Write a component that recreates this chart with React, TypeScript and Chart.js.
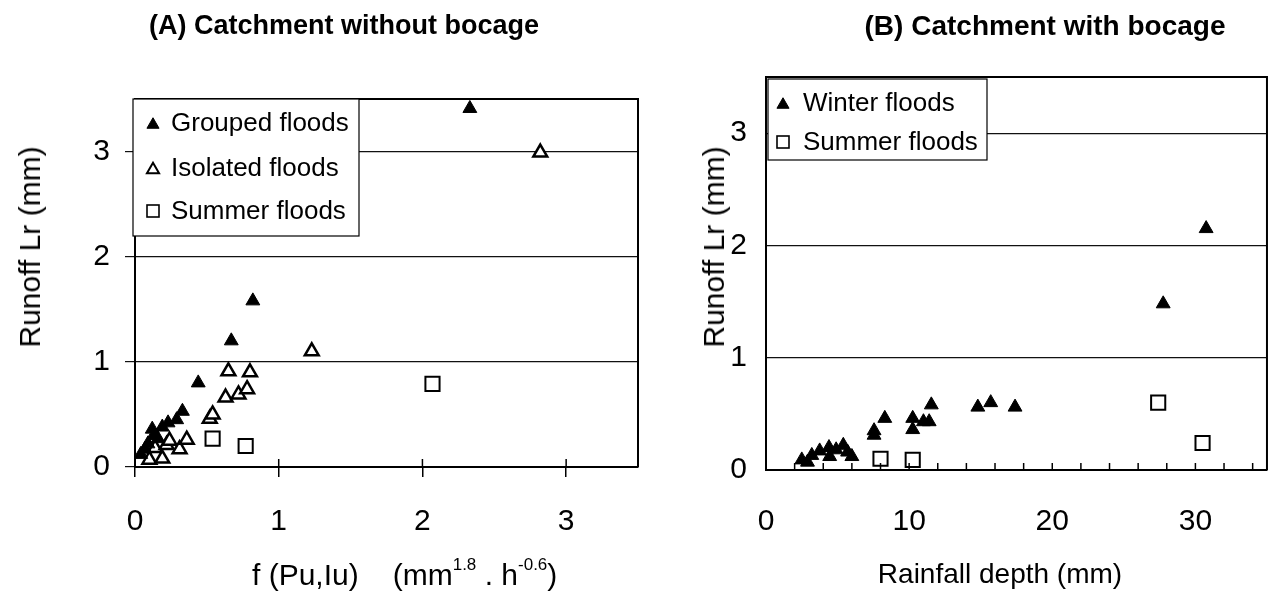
import React, { useEffect, useRef } from 'react';
import { Chart, registerables } from 'chart.js';

Chart.register(...registerables);

const FONT = '"Liberation Sans", Arial, Helvetica, sans-serif';

// ---------- Panel A data : Catchment without bocage ----------
const groupedFloodsA: [number, number][] = [
  [0.04, 0.12], [0.07, 0.17], [0.09, 0.22], [0.12, 0.36], [0.13, 0.30], [0.16, 0.27],
  [0.19, 0.38], [0.23, 0.42], [0.29, 0.45], [0.33, 0.53], [0.44, 0.80], [0.67, 1.20],
  [0.82, 1.58], [2.33, 3.41],
];
const isolatedFloodsA: [number, number][] = [
  [0.10, 0.07], [0.19, 0.08], [0.14, 0.18], [0.22, 0.21], [0.24, 0.25], [0.31, 0.17],
  [0.36, 0.26], [0.52, 0.46], [0.54, 0.50], [0.63, 0.66], [0.65, 0.91], [0.72, 0.69],
  [0.78, 0.74], [0.80, 0.90], [1.23, 1.10], [2.82, 2.99],
];
const summerFloodsA: [number, number][] = [
  [0.54, 0.27], [0.77, 0.20], [2.07, 0.79],
];

// ---------- Panel B data : Catchment with bocage ----------
const winterFloodsB: [number, number][] = [
  [2.5, 0.09], [2.9, 0.07], [3.2, 0.13], [3.75, 0.17], [4.4, 0.20], [4.45, 0.12],
  [4.9, 0.18], [5.4, 0.22], [5.7, 0.16], [6.0, 0.12], [7.55, 0.31], [7.55, 0.35],
  [8.3, 0.46], [10.25, 0.36], [10.25, 0.46], [11.0, 0.43], [11.4, 0.43], [11.55, 0.58],
  [14.8, 0.56], [15.7, 0.60], [17.4, 0.56], [27.75, 1.48], [30.75, 2.15],
];
const summerFloodsB: [number, number][] = [
  [8.0, 0.10], [10.25, 0.09], [27.4, 0.60], [30.5, 0.24],
];

const labelsA = ['Grouped floods', 'Isolated floods', 'Summer floods'];
const labelsB = ['Winter floods', 'Summer floods'];

const toPts = (arr: [number, number][]) => arr.map(([x, y]) => ({ x, y }));

const filledTri = {
  pointStyle: 'triangle', pointRadius: 8, pointHoverRadius: 8,
  backgroundColor: '#000', borderColor: '#000', borderWidth: 1,
};
const openTri = {
  pointStyle: 'triangle', pointRadius: 8, pointHoverRadius: 8,
  backgroundColor: '#fff', borderColor: '#000', borderWidth: 2.5,
};
const openSq = {
  pointStyle: 'rect', pointRadius: 10, pointHoverRadius: 10,
  backgroundColor: '#fff', borderColor: '#000', borderWidth: 2,
};

function drawLegendMarker(ctx: CanvasRenderingContext2D, ds: any, x: number, cy: number) {
  ctx.save();
  ctx.strokeStyle = '#000';
  ctx.fillStyle = ds.backgroundColor;
  if (ds.pointStyle === 'triangle') {
    const r = 7;
    const y = cy + r / 4;
    ctx.beginPath();
    ctx.moveTo(x, y - r);
    ctx.lineTo(x + r * Math.sin((2 * Math.PI) / 3), y + r / 2);
    ctx.lineTo(x - r * Math.sin((2 * Math.PI) / 3), y + r / 2);
    ctx.closePath();
    ctx.fill();
    ctx.lineWidth = ds.backgroundColor === '#000' ? 1 : 2;
    ctx.stroke();
  } else {
    const s = 12;
    ctx.fillRect(x - s / 2, cy - s / 2, s, s);
    ctx.lineWidth = 1.6;
    ctx.strokeRect(x - s / 2, cy - s / 2, s, s);
  }
  ctx.restore();
}

const decorPlugin = {
  id: 'decor',
  afterDatasetsDraw(chart: any, _args: any, opts: any) {
    const { ctx, chartArea: ca } = chart;
    ctx.save();
    // top and right frame
    ctx.strokeStyle = '#000';
    ctx.lineWidth = 2;
    ctx.beginPath();
    ctx.moveTo(ca.left, ca.top);
    ctx.lineTo(ca.right, ca.top);
    ctx.lineTo(ca.right, ca.bottom);
    ctx.stroke();
    // inward x ticks
    const xs = chart.scales.x;
    ctx.lineWidth = 1.5;
    xs.ticks.forEach((t: any) => {
      const px = xs.getPixelForValue(t.value);
      ctx.beginPath();
      ctx.moveTo(px, ca.bottom);
      ctx.lineTo(px, ca.bottom - opts.innerTick);
      ctx.stroke();
    });
    // legend box
    const L = opts.legend;
    const lx = ca.left + L.dx;
    const ly = ca.top + L.dy;
    ctx.fillStyle = '#fff';
    ctx.fillRect(lx, ly, L.w, L.h);
    ctx.lineWidth = 1.2;
    ctx.strokeStyle = '#000';
    ctx.strokeRect(lx, ly, L.w, L.h);
    ctx.font = `${L.fontSize}px ${FONT}`;
    ctx.textBaseline = 'middle';
    ctx.textAlign = 'left';
    chart.data.datasets.forEach((ds: any, i: number) => {
      const cy = ly + L.rows[i];
      drawLegendMarker(ctx, ds, lx + L.markerX, cy);
      ctx.fillStyle = '#000';
      ctx.fillText(ds.label, lx + L.textX, cy + 1);
    });
    ctx.restore();
  },
};

const tickFont = { family: FONT, size: 30 };

function makeConfigA(): any {
  return {
    type: 'scatter',
    data: {
      datasets: [
        { label: labelsA[0], data: toPts(groupedFloodsA), ...filledTri },
        { label: labelsA[1], data: toPts(isolatedFloodsA), ...openTri },
        { label: labelsA[2], data: toPts(summerFloodsA), ...openSq },
      ],
    },
    options: {
      responsive: false,
      animation: false,
      layout: { padding: { left: 0, top: 99, right: 9, bottom: 53 } },
      plugins: {
        legend: { display: false },
        title: { display: false },
        tooltip: { enabled: false },
        decor: {
          innerTick: 8,
          legend: { dx: -2, dy: 0, w: 226, h: 137, rows: [24, 69, 112], markerX: 20, textX: 38, fontSize: 26 },
        },
      },
      scales: {
        x: {
          type: 'linear', min: 0, max: 3.5,
          afterFit: (s: any) => { s.height = 80; },
          ticks: { stepSize: 1, includeBounds: false, autoSkip: false, maxRotation: 0, padding: 27, color: '#000', font: tickFont },
          grid: { drawOnChartArea: false, drawTicks: true, tickLength: 10, color: '#000', lineWidth: 1.5 },
          border: { display: true, color: '#000', width: 2 },
        },
        y: {
          type: 'linear', min: 0, max: 3.5,
          afterFit: (s: any) => { s.width = 135; },
          ticks: { stepSize: 1, includeBounds: false, padding: 15, color: '#000', font: tickFont },
          grid: { drawOnChartArea: true, drawTicks: true, tickLength: 10, color: '#111', lineWidth: 1.2 },
          border: { display: true, color: '#000', width: 2 },
        },
      },
    },
    plugins: [decorPlugin],
  };
}

function makeConfigB(): any {
  return {
    type: 'scatter',
    data: {
      datasets: [
        { label: labelsB[0], data: toPts(winterFloodsB), ...filledTri },
        { label: labelsB[1], data: toPts(summerFloodsB), ...openSq },
      ],
    },
    options: {
      responsive: false,
      animation: false,
      layout: { padding: { left: 0, top: 77, right: 2, bottom: 50 } },
      plugins: {
        legend: { display: false },
        title: { display: false },
        tooltip: { enabled: false },
        decor: {
          innerTick: 7,
          legend: { dx: 2, dy: 2, w: 219, h: 81, rows: [24, 63], markerX: 15, textX: 35, fontSize: 26 },
        },
      },
      scales: {
        x: {
          type: 'linear', min: 0, max: 35,
          afterFit: (s: any) => { s.height = 80; },
          ticks: {
            stepSize: 2, includeBounds: false, autoSkip: false, maxRotation: 0, padding: 34, color: '#000', font: tickFont,
            callback: (v: any) => (Number(v) % 10 === 0 ? String(v) : ''),
          },
          grid: { drawOnChartArea: false, drawTicks: false, color: '#000', lineWidth: 1.5 },
          border: { display: true, color: '#000', width: 2 },
        },
        y: {
          type: 'linear', min: 0, max: 3.5,
          afterFit: (s: any) => { s.width = 116; },
          ticks: { stepSize: 1, includeBounds: false, padding: 19, color: '#000', font: tickFont },
          grid: { drawOnChartArea: true, drawTicks: false, color: '#111', lineWidth: 1.2 },
          border: { display: true, color: '#000', width: 2 },
        },
      },
    },
    plugins: [decorPlugin],
  };
}

const abs = (extra: React.CSSProperties): React.CSSProperties => ({
  position: 'absolute', whiteSpace: 'nowrap', lineHeight: 1, color: '#000', fontFamily: FONT, ...extra,
});

const supStyle: React.CSSProperties = { fontSize: 17, verticalAlign: 'baseline', position: 'relative', top: -15 };

export default function App() {
  const refA = useRef<HTMLCanvasElement>(null);
  const refB = useRef<HTMLCanvasElement>(null);

  useEffect(() => {
    const a = new Chart(refA.current as HTMLCanvasElement, makeConfigA());
    const b = new Chart(refB.current as HTMLCanvasElement, makeConfigB());
    return () => { a.destroy(); b.destroy(); };
  }, []);

  return (
    <div style={{ position: 'absolute', left: 0, top: 0, width: 1287, height: 600, background: '#fff', overflow: 'hidden' }}>
      <canvas ref={refA} width={650} height={600} style={{ position: 'absolute', left: 0, top: 0, width: 650, height: 600 }} />
      <canvas ref={refB} width={637} height={600} style={{ position: 'absolute', left: 650, top: 0, width: 637, height: 600 }} />

      <div style={abs({ left: 344, top: 12, transform: 'translateX(-50%)', fontSize: 27, fontWeight: 'bold' })}>
        (A) Catchment without bocage
      </div>
      <div style={abs({ left: 1045, top: 12, transform: 'translateX(-50%)', fontSize: 28, fontWeight: 'bold' })}>
        (B) Catchment with bocage
      </div>

      <div style={abs({ left: 30, top: 247, transform: 'translate(-50%, -50%) rotate(-90deg)', fontSize: 30 })}>
        Runoff Lr (mm)
      </div>
      <div style={abs({ left: 714, top: 247, transform: 'translate(-50%, -50%) rotate(-90deg)', fontSize: 30 })}>
        Runoff Lr (mm)
      </div>

      <div style={abs({ left: 252, top: 560, fontSize: 30 })}>
        f (Pu,Iu)
        <span style={{ marginLeft: 34 }}>
          (mm<sup style={supStyle}>1.8</sup> . h<sup style={supStyle}>-0.6</sup>)
        </span>
      </div>
      <div style={abs({ left: 1000, top: 560, transform: 'translateX(-50%)', fontSize: 28 })}>
        Rainfall depth (mm)
      </div>
    </div>
  );
}
